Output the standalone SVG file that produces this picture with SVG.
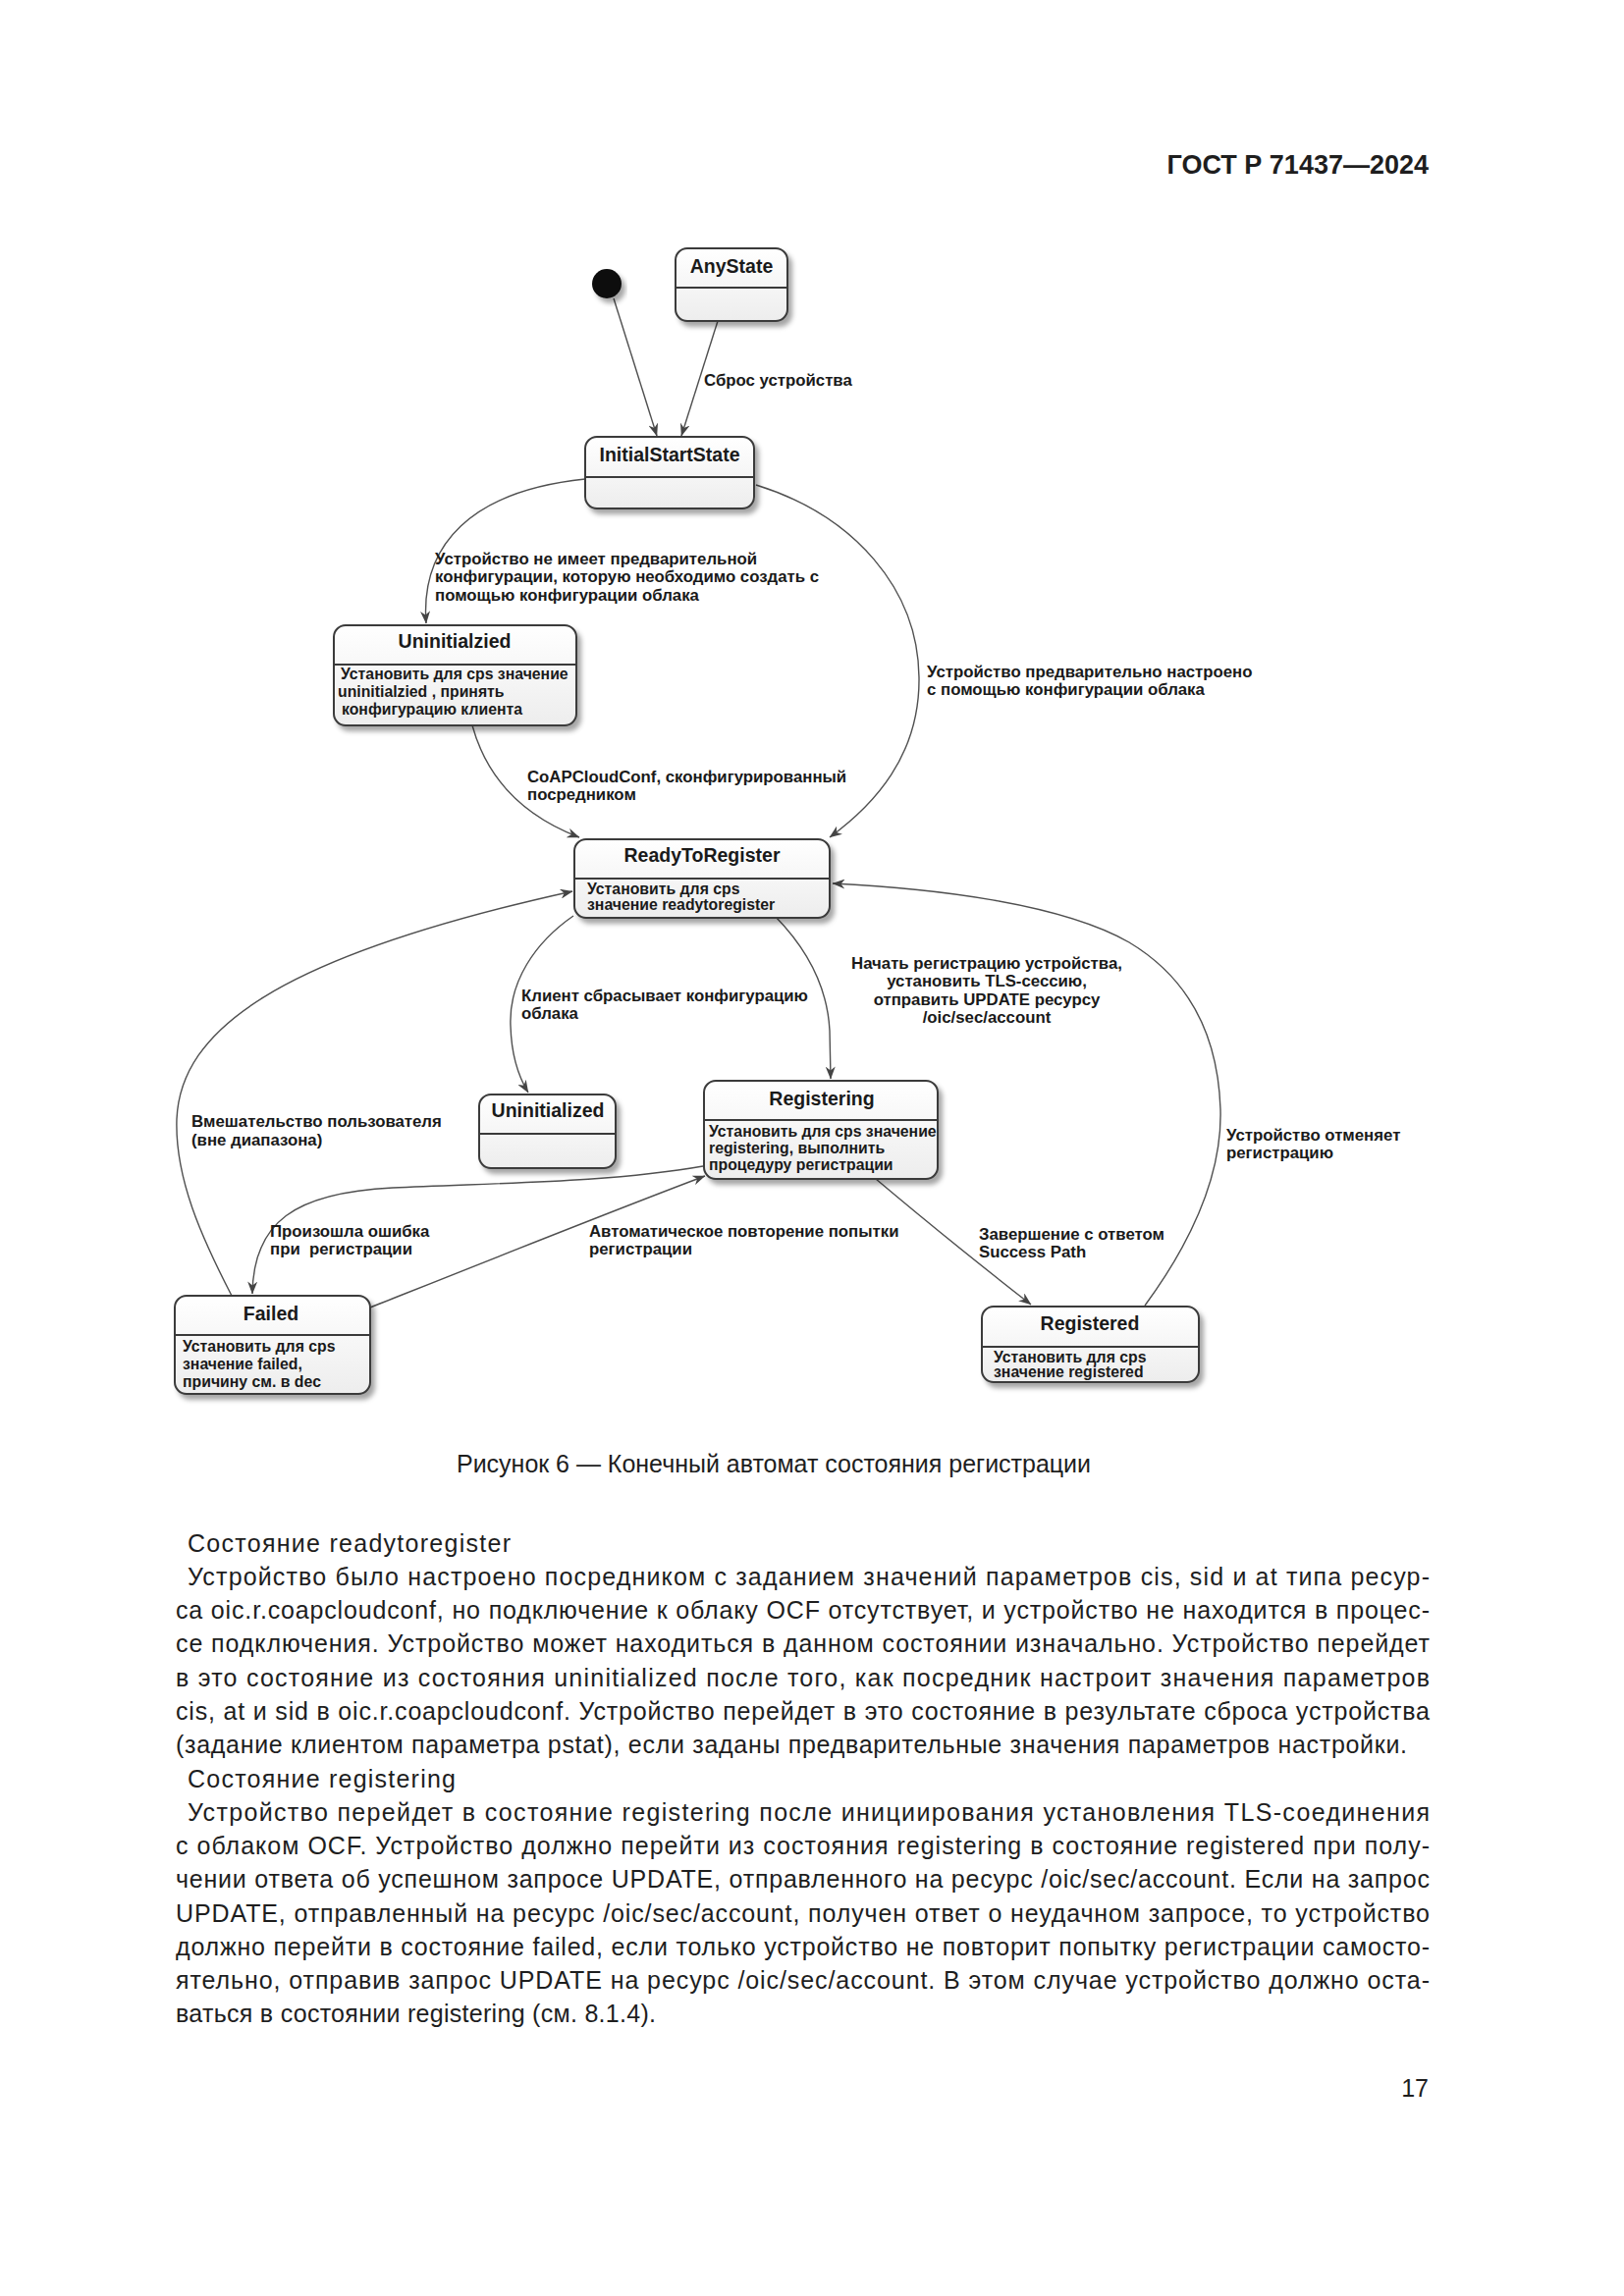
<svg xmlns="http://www.w3.org/2000/svg" width="1654" height="2339" viewBox="0 0 1654 2339">
<style>
.pg{fill:#fff}
.node rect{fill:url(#ng);stroke:#3a3a3a;stroke-width:2}
.node line{stroke:#3a3a3a;stroke-width:2}
.ttl{font-family:"Liberation Sans",Arial,sans-serif;font-size:19.5px;font-weight:bold;fill:#1a1a1a;text-anchor:middle}
.dsc{font-family:"Liberation Sans",Arial,sans-serif;font-size:15.8px;font-weight:bold;fill:#1a1a1a}
.lbl{font-family:"Liberation Sans",Arial,sans-serif;font-size:16.8px;font-weight:bold;fill:#1a1a1a;white-space:pre}
.mid{text-anchor:middle}
.edge path{fill:none;stroke:#505050;stroke-width:1.4;marker-end:url(#arr)}
.body{font-family:"Liberation Sans",Arial,sans-serif;font-size:25px;fill:#1e1e1e}
.hdr{font-family:"Liberation Sans",Arial,sans-serif;font-size:27px;font-weight:bold;fill:#1e1e1e;text-anchor:end}
</style>
<defs>
<linearGradient id="ng" x1="0" y1="0" x2="0" y2="1">
<stop offset="0" stop-color="#ffffff"/>
<stop offset="1" stop-color="#ededed"/>
</linearGradient>
<filter id="sh" x="-20%" y="-20%" width="140%" height="150%">
<feDropShadow dx="4" dy="5" stdDeviation="2.5" flood-color="#000" flood-opacity="0.35"/>
</filter>
<marker id="arr" viewBox="0 0 13 10" refX="12.5" refY="5" markerWidth="13" markerHeight="10" orient="auto" markerUnits="userSpaceOnUse">
<path d="M0,0 L13,5 L0,10 L4,5 Z" fill="#444"/>
</marker>
</defs>
<rect class="pg" x="0" y="0" width="1654" height="2339"/>

<text class="hdr" x="1455" y="177">ГОСТ Р 71437—2024</text>

<g id="connectors" class="edge">
<path d="M625 304 L669 444"/>
<path d="M731 327 L694 444"/>
<path d="M596 488 C480 500 428 555 434 635"/>
<path d="M481 739 C495 790 530 830 590 853"/>
<path d="M770 494 C870 525 935 600 936 690 C937 770 890 820 845 853"/>
<path d="M584 933 C545 960 518 1000 520 1045 C521 1080 530 1100 538 1113"/>
<path d="M790 934 C825 970 843 1010 845 1050 L846 1099"/>
<path d="M716 1188 C620 1205 500 1205 400 1210 C300 1215 258 1245 257 1318"/>
<path d="M377 1332 C470 1295 620 1235 718 1198"/>
<path d="M892 1201 C950 1250 1000 1290 1050 1329"/>
<path d="M1166 1330 C1210 1270 1245 1200 1243 1130 C1240 1040 1200 990 1150 960 C1080 920 950 905 848 900"/>
<path d="M236 1320 C205 1260 178 1200 180 1140 C184 1050 280 975 583 908"/>
</g>

<g id="edge-labels">
<text class="lbl" x="717" y="393">Сброс устройства</text>
<text class="lbl" x="443" y="575">Устройство не имеет предварительной</text>
<text class="lbl" x="443" y="593">конфигурации, которую необходимо создать с</text>
<text class="lbl" x="443" y="612">помощью конфигурации облака</text>
<text class="lbl" x="944" y="690">Устройство предварительно настроено</text>
<text class="lbl" x="944" y="708">с помощью конфигурации облака</text>
<text class="lbl" x="537" y="797">CoAPCloudConf, сконфигурированный</text>
<text class="lbl" x="537" y="815">посредником</text>
<text class="lbl" x="531" y="1020">Клиент сбрасывает конфигурацию</text>
<text class="lbl" x="531" y="1038">облака</text>
<text class="lbl mid" x="1005" y="987">Начать регистрацию устройства,</text>
<text class="lbl mid" x="1005" y="1005">установить TLS-сессию,</text>
<text class="lbl mid" x="1005" y="1024">отправить UPDATE ресурсу</text>
<text class="lbl mid" x="1005" y="1042">/oic/sec/account</text>
<text class="lbl" x="195" y="1148">Вмешательство пользователя</text>
<text class="lbl" x="195" y="1167">(вне диапазона)</text>
<text class="lbl" x="1249" y="1162">Устройство отменяет</text>
<text class="lbl" x="1249" y="1180">регистрацию</text>
<text class="lbl" x="275" y="1260">Произошла ошибка</text>
<text class="lbl" x="275" y="1278">при  регистрации</text>
<text class="lbl" x="600" y="1260">Автоматическое повторение попытки</text>
<text class="lbl" x="600" y="1278">регистрации</text>
<text class="lbl" x="997" y="1263">Завершение с ответом</text>
<text class="lbl" x="997" y="1281">Success Path</text>
</g>

<g id="initial">
<circle cx="618" cy="289" r="15" fill="#111" filter="url(#sh)"/>
</g>

<g id="AnyState" class="node">
<rect x="688" y="253" width="114" height="74" rx="12" filter="url(#sh)"/>
<line x1="688" y1="293" x2="802" y2="293"/>
<text class="ttl" x="745" y="278">AnyState</text>
</g>

<g id="InitialStartState" class="node">
<rect x="596" y="445" width="172" height="73" rx="12" filter="url(#sh)"/>
<line x1="596" y1="486" x2="768" y2="486"/>
<text class="ttl" x="682" y="470">InitialStartState</text>
</g>

<g id="Uninitialzied" class="node">
<rect x="340" y="637" width="247" height="102" rx="12" filter="url(#sh)"/>
<line x1="340" y1="677" x2="587" y2="677"/>
<text class="ttl" x="463" y="660">Uninitialzied</text>
<text class="dsc" x="347" y="692">Установить для cps значение</text>
<text class="dsc" x="344" y="710">uninitialzied , принять</text>
<text class="dsc" x="348" y="728">конфигурацию клиента</text>
</g>

<g id="ReadyToRegister" class="node">
<rect x="585" y="855" width="260" height="80" rx="12" filter="url(#sh)"/>
<line x1="585" y1="895" x2="845" y2="895"/>
<text class="ttl" x="715" y="878">ReadyToRegister</text>
<text class="dsc" x="598" y="911">Установить для cps</text>
<text class="dsc" x="598" y="927">значение readytoregister</text>
</g>

<g id="Uninitialized" class="node">
<rect x="488" y="1115" width="139" height="75" rx="12" filter="url(#sh)"/>
<line x1="488" y1="1155" x2="627" y2="1155"/>
<text class="ttl" x="558" y="1138">Uninitialized</text>
</g>

<g id="Registering" class="node">
<rect x="717" y="1101" width="238" height="100" rx="12" filter="url(#sh)"/>
<line x1="717" y1="1141" x2="955" y2="1141"/>
<text class="ttl" x="837" y="1126">Registering</text>
<text class="dsc" x="722" y="1158">Установить для cps значение</text>
<text class="dsc" x="722" y="1175">registering, выполнить</text>
<text class="dsc" x="722" y="1192">процедуру регистрации</text>
</g>

<g id="Failed" class="node">
<rect x="178" y="1320" width="199" height="100" rx="12" filter="url(#sh)"/>
<line x1="178" y1="1360" x2="377" y2="1360"/>
<text class="ttl" x="276" y="1345">Failed</text>
<text class="dsc" x="186" y="1377">Установить для cps</text>
<text class="dsc" x="186" y="1395">значение failed,</text>
<text class="dsc" x="186" y="1413">причину см. в dec</text>
</g>

<g id="Registered" class="node">
<rect x="1000" y="1331" width="221" height="77" rx="12" filter="url(#sh)"/>
<line x1="1000" y1="1372" x2="1221" y2="1372"/>
<text class="ttl" x="1110" y="1355">Registered</text>
<text class="dsc" x="1012" y="1388">Установить для cps</text>
<text class="dsc" x="1012" y="1403">значение registered</text>
</g>

<text class="body" x="465" y="1500" textLength="646" lengthAdjust="spacing">Рисунок 6 — Конечный автомат состояния регистрации</text>

<g id="body-text" class="body">
<text x="191" y="1581" textLength="329" lengthAdjust="spacing">Состояние readytoregister</text>
<text x="191" y="1615" textLength="1265" lengthAdjust="spacing">Устройство было настроено посредником с заданием значений параметров cis, sid и at типа ресур-</text>
<text x="179" y="1649" textLength="1277" lengthAdjust="spacing">са oic.r.coapcloudconf, но подключение к облаку OCF отсутствует, и устройство не находится в процес-</text>
<text x="179" y="1683" textLength="1277" lengthAdjust="spacing">се подключения. Устройство может находиться в данном состоянии изначально. Устройство перейдет</text>
<text x="179" y="1718" textLength="1277" lengthAdjust="spacing">в это состояние из состояния uninitialized после того, как посредник настроит значения параметров</text>
<text x="179" y="1752" textLength="1277" lengthAdjust="spacing">cis, at и sid в oic.r.coapcloudconf. Устройство перейдет в это состояние в результате сброса устройства</text>
<text x="179" y="1786" textLength="1254" lengthAdjust="spacing">(задание клиентом параметра pstat), если заданы предварительные значения параметров настройки.</text>
<text x="191" y="1821" textLength="273" lengthAdjust="spacing">Состояние registering</text>
<text x="191" y="1855" textLength="1265" lengthAdjust="spacing">Устройство перейдет в состояние registering после инициирования установления TLS-соединения</text>
<text x="179" y="1889" textLength="1277" lengthAdjust="spacing">с облаком OCF. Устройство должно перейти из состояния registering в состояние registered при полу-</text>
<text x="179" y="1923" textLength="1277" lengthAdjust="spacing">чении ответа об успешном запросе UPDATE, отправленного на ресурс /oic/sec/account. Если на запрос</text>
<text x="179" y="1958" textLength="1277" lengthAdjust="spacing">UPDATE, отправленный на ресурс /oic/sec/account, получен ответ о неудачном запросе, то устройство</text>
<text x="179" y="1992" textLength="1277" lengthAdjust="spacing">должно перейти в состояние failed, если только устройство не повторит попытку регистрации самосто-</text>
<text x="179" y="2026" textLength="1277" lengthAdjust="spacing">ятельно, отправив запрос UPDATE на ресурс /oic/sec/account. В этом случае устройство должно оста-</text>
<text x="179" y="2060" textLength="489" lengthAdjust="spacing">ваться в состоянии registering (см. 8.1.4).</text>
</g>

<text class="body" x="1455" y="2136" text-anchor="end">17</text>
</svg>
